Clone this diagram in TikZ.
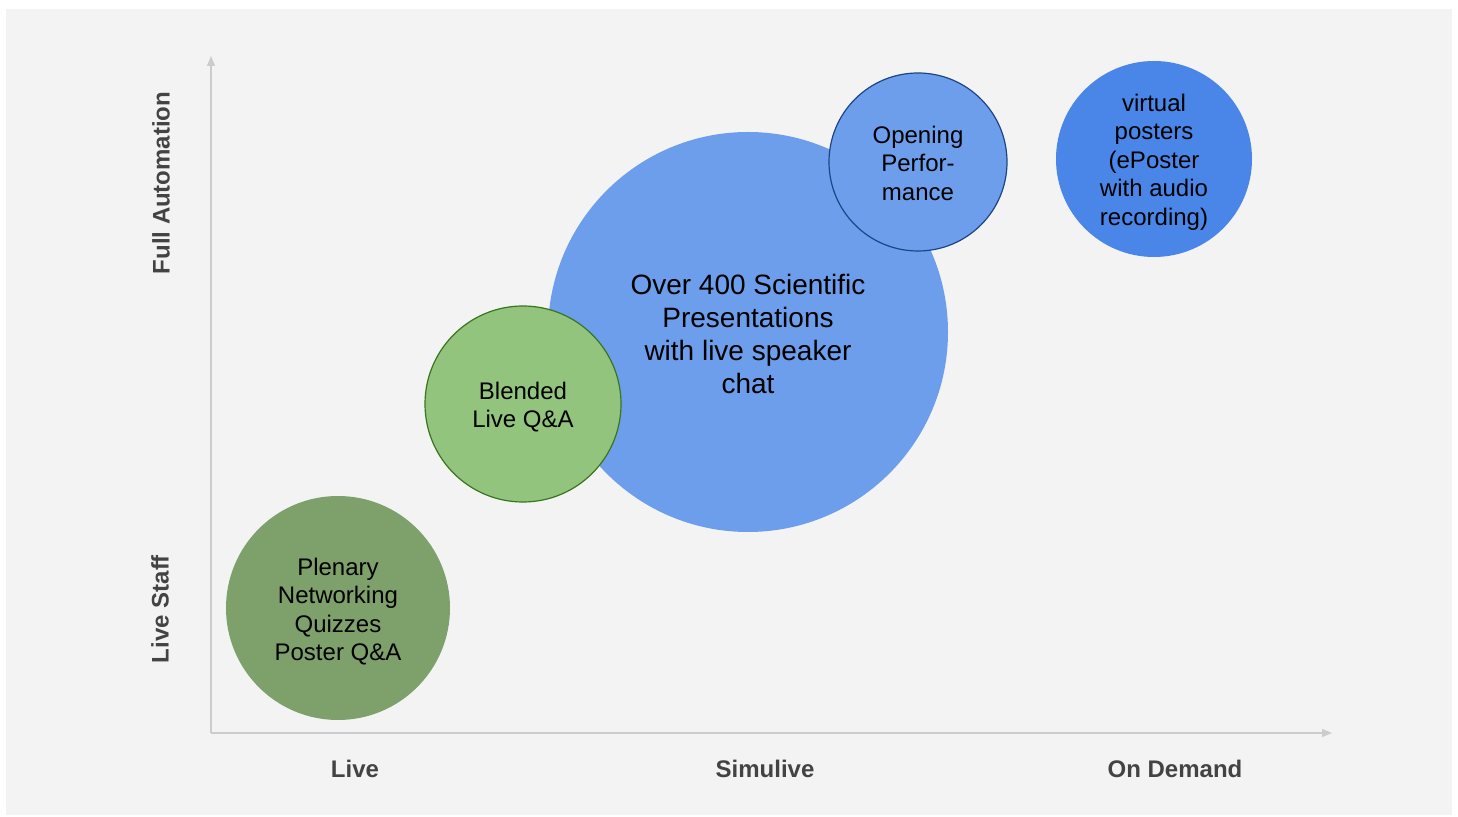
\documentclass[tikz,border=0pt]{standalone}
\usepackage{fontspec}
\setmainfont{Liberation Sans}
\usetikzlibrary{arrows.meta}
\definecolor{bggray}{HTML}{F3F3F3}
\definecolor{axisgray}{HTML}{CCCCCC}
\definecolor{labelgray}{HTML}{434343}
\definecolor{sagegreen}{HTML}{7EA16C}
\definecolor{lightgreen}{HTML}{93C47D}
\definecolor{darkgreen}{HTML}{38761D}
\definecolor{lightblue}{HTML}{6D9EEB}
\definecolor{darkblue}{HTML}{1C4587}
\definecolor{cornblue}{HTML}{4A86E8}

\begin{document}
\begin{tikzpicture}[x=0.5pt, y=-0.5pt,
  bubble/.style={circle, inner sep=0pt},
  bubbletext/.style={inner sep=0pt, align=center, text=black,
    font=\fontsize{12}{14.25}\selectfont},
  axislabel/.style={text=labelgray, font=\bfseries\fontsize{12}{14}\selectfont}]
% 1px of the slide = 0.5pt, y runs downwards
\useasboundingbox (0,0) rectangle (1458,817);
\fill[white] (0,0) rectangle (1458,817);
\fill[bggray] (6,9) rectangle (1452,815);

% Axes
\coordinate (origin) at (211,733);
\coordinate (ytop) at (211,56);
\coordinate (xend) at (1332,733);
\draw[axisgray, line width=0.6pt, -{Triangle[length=5pt, width=4pt]}] (origin) -- (ytop);
\draw[axisgray, line width=0.6pt, -{Triangle[length=5pt, width=4pt]}] (origin) -- (xend);

% Axis labels
\node[axislabel] (live) at (355,769) {Live};
\node[axislabel] (simulive) at (765,769) {Simulive};
\node[axislabel] (ondemand) at (1175,769) {On Demand};
\node[axislabel, rotate=90] (fullauto) at (161,183) {Full Automation};
\node[axislabel, rotate=90] (livestaff) at (160,609) {Live Staff};

% Bubbles
\node[bubble, fill=lightblue, minimum size=200pt] (scientific) at (748,332) {};
\node[bubble, fill=sagegreen, minimum size=112pt] (plenary) at (338,608) {};
\node[bubble, fill=lightgreen, draw=darkgreen, line width=0.6pt, minimum size=98pt] (blended) at (523,404) {};
\node[bubble, fill=lightblue, draw=darkblue, line width=0.6pt, minimum size=89pt] (opening) at (918,162) {};
\node[bubble, fill=cornblue, minimum size=98pt] (virtual) at (1154,159) {};

% Bubble texts
\node[bubbletext, font=\fontsize{14}{16.5}\selectfont] (scientific-text) at ([yshift=-0.8pt]scientific.center)
  {Over 400 Scientific\\Presentations\\with live speaker\\chat};
\node[bubbletext] (plenary-text) at ([yshift=-1.8pt]plenary.center)
  {Plenary\\Networking\\Quizzes\\Poster Q\&A};
\node[bubbletext] (blended-text) at ([yshift=-1.5pt]blended.center)
  {Blended\\Live Q\&A};
\node[bubbletext] (opening-text) at ([yshift=-0.5pt]opening.center)
  {Opening\\Perfor-\\mance};
\node[bubbletext] (virtual-text) at ([yshift=-1.5pt]virtual.center)
  {virtual\\posters\\(ePoster\\with audio\\recording)};

\end{tikzpicture}
\end{document}
